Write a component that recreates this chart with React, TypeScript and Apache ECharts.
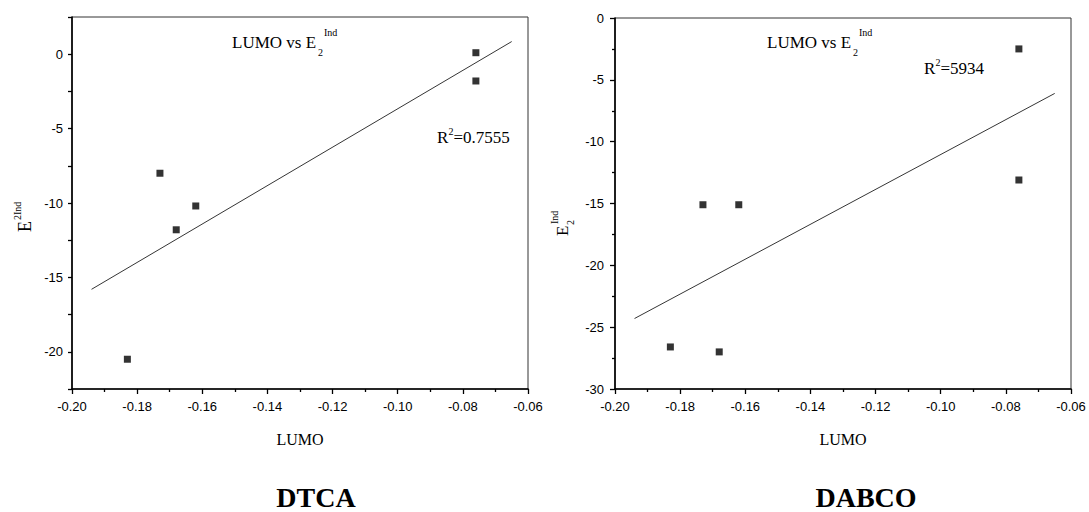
import React, { useEffect, useRef } from 'react';
import * as echarts from 'echarts';

// DTCA panel
const dtcaLumo = [-0.183, -0.173, -0.168, -0.162, -0.076, -0.076];
const dtcaE = [-20.5, -8.0, -11.8, -10.2, 0.1, -1.8];
const dtcaFitLumo = [-0.194, -0.065];
const dtcaFitE = [-15.8, 0.85];
const dtcaR2 = '=0.7555';

// DABCO panel
const dabcoLumo = [-0.183, -0.173, -0.168, -0.162, -0.076, -0.076];
const dabcoE = [-26.6, -15.1, -27.0, -15.1, -2.5, -13.1];
const dabcoFitLumo = [-0.194, -0.065];
const dabcoFitE = [-24.3, -6.1];
const dabcoR2 = '=5934';

const panelNames = ['DTCA', 'DABCO'];
const xAxisTitle = 'LUMO';

const SERIF = "'Liberation Serif', 'Times New Roman', serif";
const SANS = "'Liberation Sans', Arial, sans-serif";

const pairs = (xs: number[], ys: number[]) => xs.map((x, i) => [x, ys[i]]);

function txt(x: number, y: number, text: string, size: number, extra: any = {}) {
  return {
    type: 'text',
    x,
    y,
    style: {
      text,
      fill: '#000',
      font: `${extra.bold ? 'bold ' : ''}${size}px ${SERIF}`,
      align: extra.align || 'left',
      verticalAlign: 'middle',
    },
  };
}

function titleLabel(x: number, y: number) {
  return {
    type: 'group',
    x,
    y,
    children: [
      txt(0, 0, 'LUMO vs E', 17),
      txt(86, 10, '2', 10),
      txt(92, -10, 'Ind', 10),
    ],
  };
}

function r2Label(x: number, y: number, value: string) {
  return {
    type: 'group',
    x,
    y,
    children: [txt(0, 0, 'R', 17), txt(11.5, -6, '2', 10), txt(16.5, 0, value, 17)],
  };
}

const xAxisBase = (gridIndex: number) => ({
  type: 'value',
  gridIndex,
  min: -0.2,
  max: -0.06,
  interval: 0.02,
  name: xAxisTitle,
  nameLocation: 'middle',
  nameGap: 42,
  nameTextStyle: { fontFamily: SERIF, fontSize: 16, color: '#000' },
  axisLine: { show: true, onZero: false, lineStyle: { color: '#000', width: 1.6 } },
  axisTick: { show: true, inside: false, length: 5, lineStyle: { color: '#000', width: 1.3 } },
  minorTick: { show: true, splitNumber: 2, length: 3, lineStyle: { color: '#000', width: 1.3 } },
  axisLabel: {
    color: '#000',
    fontFamily: SANS,
    fontSize: 13,
    margin: 11,
    formatter: (v: number) => v.toFixed(2),
  },
  splitLine: { show: false },
});

export default function App() {
  const ref = useRef<HTMLDivElement>(null);
  useEffect(() => {
    if (!ref.current) return;
    const chart = echarts.init(ref.current, undefined, { renderer: 'svg' });
    chart.setOption({
      animation: false,
      backgroundColor: '#fff',
      grid: [
        { left: 72, top: 17, width: 456, height: 372, show: true, borderColor: '#333', borderWidth: 1 },
        { left: 615, top: 18, width: 456, height: 371, show: true, borderColor: '#333', borderWidth: 1 },
      ],
      xAxis: [xAxisBase(0), xAxisBase(1)],
      yAxis: [
        {
          type: 'value',
          gridIndex: 0,
          min: -22.5,
          max: 2.5,
          interval: 2.5,
          axisLine: { show: true, onZero: false, lineStyle: { color: '#000', width: 1.6 } },
          axisTick: { show: true, inside: false, length: 4, lineStyle: { color: '#000', width: 1.3 } },
          axisLabel: {
            color: '#000',
            fontFamily: SANS,
            fontSize: 13,
            margin: 9,
            formatter: (v: number) => (Math.abs(v % 5) < 1e-6 ? String(Math.round(v)) : ''),
          },
          splitLine: { show: false },
        },
        {
          type: 'value',
          gridIndex: 1,
          min: -30,
          max: 0,
          interval: 5,
          axisLine: { show: true, onZero: false, lineStyle: { color: '#000', width: 1.6 } },
          axisTick: { show: true, inside: false, length: 5, lineStyle: { color: '#000', width: 1.3 } },
          minorTick: { show: true, splitNumber: 2, length: 3, lineStyle: { color: '#000', width: 1.3 } },
          axisLabel: { color: '#000', fontFamily: SANS, fontSize: 13, margin: 11 },
          splitLine: { show: false },
        },
      ],
      series: [
        {
          type: 'scatter',
          xAxisIndex: 0,
          yAxisIndex: 0,
          symbol: 'rect',
          symbolSize: 7,
          itemStyle: { color: '#000' },
          data: pairs(dtcaLumo, dtcaE),
        },
        {
          type: 'line',
          xAxisIndex: 0,
          yAxisIndex: 0,
          showSymbol: false,
          symbol: 'none',
          lineStyle: { color: '#000', width: 0.8 },
          data: pairs(dtcaFitLumo, dtcaFitE),
        },
        {
          type: 'scatter',
          xAxisIndex: 1,
          yAxisIndex: 1,
          symbol: 'rect',
          symbolSize: 7,
          itemStyle: { color: '#000' },
          data: pairs(dabcoLumo, dabcoE),
        },
        {
          type: 'line',
          xAxisIndex: 1,
          yAxisIndex: 1,
          showSymbol: false,
          symbol: 'none',
          lineStyle: { color: '#000', width: 0.8 },
          data: pairs(dabcoFitLumo, dabcoFitE),
        },
      ],
      graphic: [
        titleLabel(232, 42),
        titleLabel(767, 42),
        r2Label(437, 137, dtcaR2),
        r2Label(924, 68, dabcoR2),
        // left y-axis title: E^{2Ind}
        {
          type: 'group',
          x: 25,
          y: 232,
          rotation: Math.PI / 2,
          children: [txt(0, 0, 'E', 18), txt(12, -8, '2Ind', 10)],
        },
        // right y-axis title: E_2^{Ind}
        {
          type: 'group',
          x: 562,
          y: 236,
          rotation: Math.PI / 2,
          children: [txt(0, 0, 'E', 17), txt(11, 8, '2', 10), txt(12, -8, 'Ind', 10)],
        },
        txt(316, 497, panelNames[0], 28, { bold: true, align: 'center' }),
        txt(866, 497, panelNames[1], 28, { bold: true, align: 'center' }),
      ],
    });
    return () => chart.dispose();
  }, []);
  return (
    <div
      ref={ref}
      style={{ position: 'fixed', left: 0, top: 0, width: 1089, height: 512, background: '#fff' }}
    />
  );
}
